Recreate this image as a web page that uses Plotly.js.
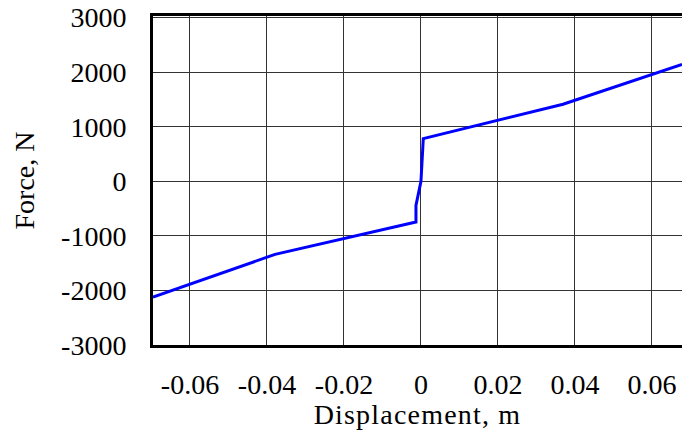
<!DOCTYPE html>
<html>
<head>
<meta charset="utf-8">
<script src="https://cdn.plot.ly/plotly-3.0.1.min.js"></script>
<style>
html,body{margin:0;padding:0;background:#fff;}
#chart{width:682px;height:430px;}
.g-xtitle text { letter-spacing: 1.2px; }
</style>
</head>
<body>
<div id="chart"></div>
<script>
// Data
const displacement = [-0.0696, -0.0379, -0.0013, -0.0013, 0.0, 0.0006, 0.0369, 0.0678];
const force = [-2123, -1339, -747, -440, 0, 783, 1413, 2141];
const xTickVals = [-0.06, -0.04, -0.02, 0, 0.02, 0.04, 0.06];
const xTickText = ["-0.06", "-0.04", "-0.02", "0", "0.02", "0.04", "0.06"];
const yTickVals = [-3000, -2000, -1000, 0, 1000, 2000, 3000];
const yTickText = ["-3000", "-2000", "-1000", "0", "1000", "2000", "3000"];

const FAM = "Liberation Serif, serif";
function f() { return {family: FAM, size: 28, color: "#000", weight: "normal"}; }

const trace = {
  x: displacement, y: force, type: "scatter", mode: "lines",
  line: {color: "#0000ff", width: 3}, hoverinfo: "skip"
};

const layout = {
  width: 682, height: 430,
  margin: {l: 153, r: 0, t: 16, b: 85},
  paper_bgcolor: "#fff", plot_bgcolor: "#fff",
  showlegend: false,
  font: f(),
  xaxis: {
    range: [-0.0696, 0.0678],
    tickvals: xTickVals, ticktext: xTickText,
    showgrid: true, gridcolor: "#333", gridwidth: 1,
    zeroline: false,
    showline: true, linecolor: "#000", linewidth: 3, mirror: true,
    ticks: "outside", ticklen: 12, tickcolor: "rgba(0,0,0,0)",
    tickfont: f(),
    title: {text: "Displacement, m", font: f(), standoff: 2}
  },
  yaxis: {
    range: [-3000, 3030],
    tickvals: yTickVals, ticktext: yTickText,
    showgrid: true, gridcolor: "#333", gridwidth: 1,
    zeroline: false,
    showline: true, linecolor: "#000", linewidth: 3, mirror: false,
    ticks: "outside", ticklen: 18, tickcolor: "rgba(0,0,0,0)",
    tickfont: f(),
    title: {text: "Force, N", font: f(), standoff: 19}
  }
};

Plotly.newPlot("chart", [trace], layout, {staticPlot: true, displayModeBar: false});
</script>
</body>
</html>
